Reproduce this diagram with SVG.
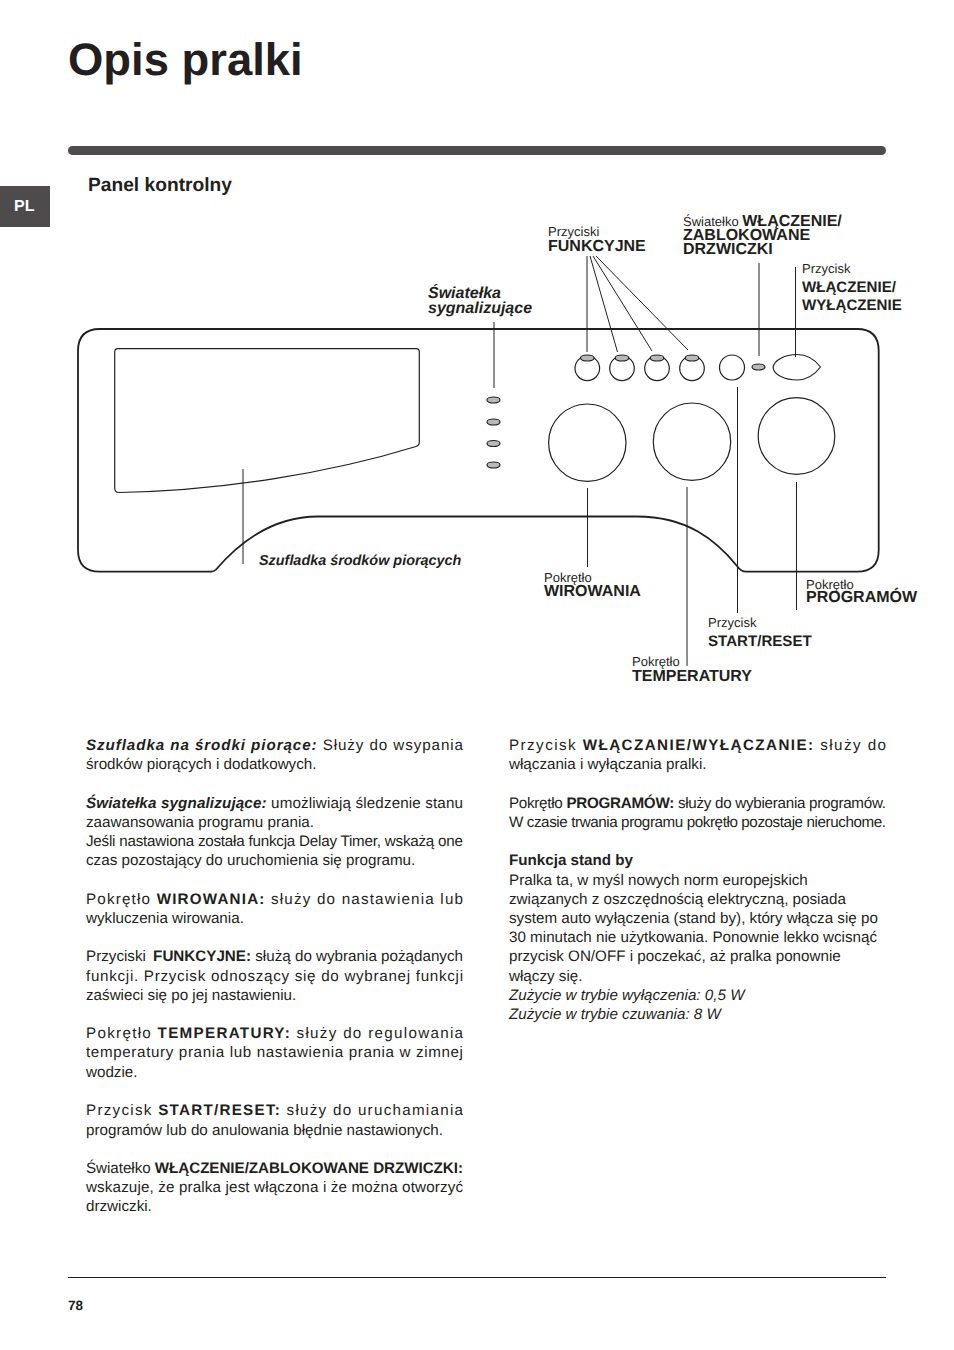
<svg xmlns="http://www.w3.org/2000/svg" width="954" height="1350" viewBox="0 0 954 1350">
<style>
text{font-family:"Liberation Sans",Arial,sans-serif;fill:#231f20;text-rendering:geometricPrecision}
.t{font-size:15.2px}
.b{font-weight:bold}
.i{font-style:italic}
.s{font-size:13px}
.l{font-size:16px;font-weight:bold}
.m{font-size:15.100px;font-weight:bold}
.o{fill:none;stroke:#231f20;stroke-width:1.2}
.p{fill:none;stroke:#231f20;stroke-width:1.8}
.c{stroke:#231f20;stroke-width:1;fill:none}
.lamp{fill:#b9b9b9;stroke:#231f20;stroke-width:1.2}
</style>
<rect width="954" height="1350" fill="#fff"/>
<g id="header">
<text x="68" y="75" font-size="45.400" class="b">Opis pralki</text>
<rect x="68" y="146" width="818" height="9" rx="4.5" fill="#4d4b4c"/>
<rect x="0" y="186" width="50" height="41" fill="#4d4b4c"/>
<text x="14" y="210.500" font-size="16" class="b" style="fill:#fff">PL</text>
<text x="88" y="191" font-size="19.200" class="b">Panel kontrolny</text>
</g>
<g id="panel"><path class="p" d="M100 329H857Q878.700 329 878.700 351V550Q878.700 571.700 857 571.700H746Q741 571.700 737 566C716 540 687 516.500 637 516.500H318C285 516.500 250 530 216 569.500Q214 571.700 211 571.700H100Q78 571.700 78 550V351Q78 329 100 329Z"/></g>
<g id="drawer-display"><path class="o" d="M118 348.700H416Q419.300 348.700 419.300 352V442Q419.300 445.500 416 446.500C330 473 220 491 119 492.500Q114.700 492.500 114.700 488V352Q114.700 348.700 118 348.700Z"/></g>
<g id="indicators">
<ellipse class="lamp" cx="493.500" cy="400" rx="6.500" ry="3"/>
<ellipse class="lamp" cx="493.500" cy="422" rx="6.500" ry="3"/>
<ellipse class="lamp" cx="493.500" cy="443.500" rx="6.500" ry="3"/>
<ellipse class="lamp" cx="493.500" cy="465" rx="6.500" ry="3"/>
</g>
<g id="function-buttons">
<circle class="o" cx="587.300" cy="368.300" r="12.300"/><ellipse class="lamp" cx="587.300" cy="358" rx="6.800" ry="3"/>
<circle class="o" cx="622" cy="368.300" r="12.300"/><ellipse class="lamp" cx="622" cy="358" rx="6.800" ry="3"/>
<circle class="o" cx="657" cy="368.300" r="12.300"/><ellipse class="lamp" cx="657" cy="358" rx="6.800" ry="3"/>
<circle class="o" cx="692" cy="368.300" r="12.300"/><ellipse class="lamp" cx="692" cy="358" rx="6.800" ry="3"/>
</g>
<g id="start-button"><circle class="o" cx="732" cy="367.500" r="12.500"/></g>
<g id="door-lamp"><ellipse class="lamp" cx="758.500" cy="367" rx="6.500" ry="3"/></g>
<g id="power-button"><path class="o" d="M773 367.500C774 360 785 354.500 797 354.500C808 354.500 816 361 820.500 367C816 373 808 380 797 380C785 380 774 375 773 367.500Z"/></g>
<g id="knobs">
<circle class="o" cx="587.300" cy="442.700" r="38.700"/>
<circle class="o" cx="692" cy="441.700" r="38.700"/>
<circle class="o" cx="796.500" cy="436" r="38.300"/>
</g>
<g id="connectors">
<path class="c" d="M494 322V388M587 256V352M590 256L617.500 352M593 256L652 351M596 256L688 350M759 263V356M795.500 267V357M737.500 387V613M796.500 482V610M687 487V666M587.500 488V567M243 469V564"/>
</g>
<g id="labels">
<text x="428" y="298" class="l i">Światełka</text>
<text x="428" y="313" class="l i">sygnalizujące</text>
<text x="548" y="236" class="s">Przyciski</text>
<text x="548" y="251" class="l">FUNKCYJNE</text>
<text x="683" y="226" class="s">Światełko <tspan class="l">WŁĄCZENIE/</tspan></text>
<text x="683" y="240" class="l">ZABLOKOWANE</text>
<text x="683" y="254" class="l">DRZWICZKI</text>
<text x="802" y="273" class="s">Przycisk</text>
<text x="802" y="292" class="m">WŁĄCZENIE/</text>
<text x="802" y="310" class="m">WYŁĄCZENIE</text>
<text x="259" y="565" class="b i" font-size="14.400">Szufladka środków piorących</text>
<text x="544" y="582" class="s">Pokrętło</text>
<text x="544" y="596" class="l">WIROWANIA</text>
<text x="806" y="589" class="s">Pokrętło</text>
<text x="806" y="602" class="l">PROGRAMÓW</text>
<text x="708" y="627" class="s">Przycisk</text>
<text x="708" y="646" class="m">START/RESET</text>
<text x="632" y="666" class="s">Pokrętło</text>
<text x="632" y="681" class="l">TEMPERATURY</text>
</g>
<g id="left-column">
<text class="t" x="86" y="750" textLength="377" lengthAdjust="spacing"><tspan class="b i">Szufladka na środki piorące:</tspan> Służy do wsypania</text>
<text class="t" x="86" y="769">środków piorących i dodatkowych.</text>
<text class="t" x="86" y="808" textLength="377" lengthAdjust="spacing"><tspan class="b i">Światełka sygnalizujące:</tspan> umożliwiają śledzenie stanu</text>
<text class="t" x="86" y="827">zaawansowania programu prania.</text>
<text class="t" x="86" y="846" textLength="377" lengthAdjust="spacing">Jeśli nastawiona została funkcja Delay Timer, wskażą one</text>
<text class="t" x="86" y="865">czas pozostający do uruchomienia się programu.</text>
<text class="t" x="86" y="904" textLength="377" lengthAdjust="spacing">Pokrętło <tspan class="b">WIROWANIA:</tspan> służy do nastawienia lub</text>
<text class="t" x="86" y="923">wykluczenia wirowania.</text>
<text class="t" x="86" y="961" textLength="377" lengthAdjust="spacing">Przyciski <tspan class="b" dx="3">FUNKCYJNE:</tspan> służą do wybrania pożądanych</text>
<text class="t" x="86" y="981" textLength="377" lengthAdjust="spacing">funkcji. Przycisk odnoszący się do wybranej funkcji</text>
<text class="t" x="86" y="1000">zaświeci się po jej nastawieniu.</text>
<text class="t" x="86" y="1038" textLength="377" lengthAdjust="spacing">Pokrętło <tspan class="b">TEMPERATURY:</tspan> służy do regulowania</text>
<text class="t" x="86" y="1057" textLength="377" lengthAdjust="spacing">temperatury prania lub nastawienia prania w zimnej</text>
<text class="t" x="86" y="1077">wodzie.</text>
<text class="t" x="86" y="1115" textLength="377" lengthAdjust="spacing">Przycisk <tspan class="b">START/RESET:</tspan> służy do uruchamiania</text>
<text class="t" x="86" y="1135" textLength="357" lengthAdjust="spacing">programów lub do anulowania błędnie nastawionych.</text>
<text class="t" x="86" y="1173" textLength="377" lengthAdjust="spacing">Światełko <tspan class="b">WŁĄCZENIE/ZABLOKOWANE DRZWICZKI:</tspan></text>
<text class="t" x="86" y="1192" textLength="377" lengthAdjust="spacing">wskazuje, że pralka jest włączona i że można otworzyć</text>
<text class="t" x="86" y="1211">drzwiczki.</text>
</g>
<g id="right-column">
<text class="t" x="509" y="750" textLength="377" lengthAdjust="spacing">Przycisk <tspan class="b">WŁĄCZANIE/WYŁĄCZANIE:</tspan> służy do</text>
<text class="t" x="509" y="769">włączania i wyłączania pralki.</text>
<text class="t" x="509" y="808" textLength="377" lengthAdjust="spacing">Pokrętło <tspan class="b">PROGRAMÓW:</tspan> służy do wybierania programów.</text>
<text class="t" x="509" y="827" textLength="377" lengthAdjust="spacing">W czasie trwania programu pokrętło pozostaje nieruchome.</text>
<text class="t b" x="509" y="865">Funkcja stand by</text>
<text class="t" x="509" y="885">Pralka ta, w myśl nowych norm europejskich</text>
<text class="t" x="509" y="904">związanych z oszczędnością elektryczną, posiada</text>
<text class="t" x="509" y="923">system auto wyłączenia (stand by), który włącza się po</text>
<text class="t" x="509" y="942">30 minutach nie użytkowania. Ponownie lekko wcisnąć</text>
<text class="t" x="509" y="961">przycisk ON/OFF i poczekać, aż pralka ponownie</text>
<text class="t" x="509" y="981">włączy się.</text>
<text class="t i" x="509" y="1000">Zużycie w trybie wyłączenia: 0,5 W</text>
<text class="t i" x="509" y="1019">Zużycie w trybie czuwania: 8 W</text>
</g>
<g id="footer">
<path d="M68 1277.500H886" stroke="#231f20" stroke-width="1"/>
<text x="68" y="1310" font-size="13.500" class="b">78</text>
</g>
</svg>
